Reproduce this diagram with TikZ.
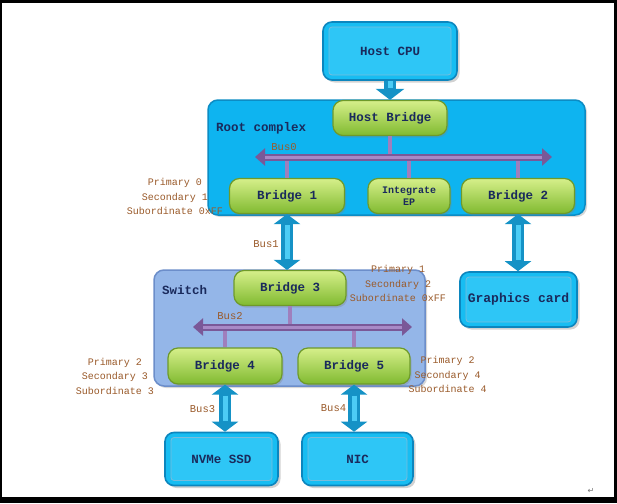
\documentclass[tikz,border=0pt]{standalone}
\usepackage{fontspec}
\setmonofont{Liberation Mono}
\newfontfamily\symfont{DejaVu Sans}
\usetikzlibrary{arrows.meta,shadows,calc}
\definecolor{cpublue}{HTML}{17BDF2}
\definecolor{cpuinner}{HTML}{2EC6F6}
\definecolor{boxedge}{HTML}{0C86BE}
\definecolor{rcblue}{HTML}{0EB4F0}
\definecolor{rcedge}{HTML}{0C8CC4}
\definecolor{swfill}{HTML}{94B6E8}
\definecolor{swedge}{HTML}{6C8ECA}
\definecolor{gtop}{HTML}{D6EF8A}
\definecolor{gmid}{HTML}{AFD951}
\definecolor{gbot}{HTML}{80BA30}
\definecolor{gedge}{HTML}{6E9A2A}
\definecolor{busdark}{HTML}{7A5898}
\definecolor{buslight}{HTML}{A889C6}
\definecolor{arrdark}{HTML}{1592C6}
\definecolor{arrlight}{HTML}{4CCCF5}
\definecolor{navy}{HTML}{1A2A5C}
\definecolor{brownlbl}{HTML}{9A5A2A}
\begin{document}
\begin{tikzpicture}[x=1pt,y=-1pt,
  nodefont/.style={font=\ttfamily\bfseries\fontsize{12.5}{14}\selectfont, text=navy},
  bluebox/.style={nodefont, draw=boxedge, line width=1.6pt, fill=cpublue, rounded corners=9pt,
    drop shadow={opacity=0.35, shadow xshift=2.5pt, shadow yshift=-2.5pt},
    path picture={\draw[draw=boxedge!55, line width=0.8pt, fill=cpuinner, rounded corners=3pt]
      ([shift={(6pt,-5pt)}]path picture bounding box.north west) rectangle
      ([shift={(-6pt,5pt)}]path picture bounding box.south east);}},
  greenbox/.style={nodefont, draw=gedge, line width=1.2pt, top color=gtop, middle color=gmid, bottom color=gbot,
    rounded corners=10pt, minimum height=35pt,
    drop shadow={opacity=0.3, shadow xshift=1.5pt, shadow yshift=-2pt}},
  groupbox/.style={rounded corners=10pt, line width=1.5pt,
    drop shadow={opacity=0.3, shadow xshift=2pt, shadow yshift=-2pt}},
  grouptitle/.style={nodefont, anchor=west, inner sep=0pt},
  lbl/.style={font=\ttfamily\fontsize{10}{14.5}\selectfont, text=brownlbl, align=center, inner sep=0pt},
  buslbl/.style={font=\ttfamily\fontsize{10.5}{12}\selectfont, text=brownlbl, inner sep=0pt},
  busouter/.style={draw=busdark, line width=7pt, {Triangle[width=17pt,length=10pt]}-{Triangle[width=17pt,length=10pt]}},
  businner/.style={draw=buslight, line width=3pt, shorten <=10pt, shorten >=10pt},
  stem/.style={draw=buslight!80!busdark, line width=4pt},
  arrouter/.style={draw=arrdark, line width=12pt, {Triangle[width=26pt,length=10pt]}-{Triangle[width=26pt,length=10pt]}},
  arrinner/.style={draw=arrlight, line width=5pt, shorten <=11pt, shorten >=11pt},
  arrdown/.style={draw=arrdark, line width=12pt, -{Triangle[width=28pt,length=11pt]}},
  arrdowninner/.style={draw=arrlight, line width=5pt, shorten >=12pt}
]
\fill[black] (0,0) rectangle (617,503);
\fill[white] (1.5,3) rectangle (614,497);
\useasboundingbox (0,0) rectangle (617,503);

% group boxes
\node[groupbox, draw=rcedge, fill=rcblue, minimum width=377pt, minimum height=115pt] (rc) at (396.5,157.5) {};
\node[groupbox, draw=swedge, fill=swfill, minimum width=271pt, minimum height=116pt] (sw) at (289.5,328) {};
\node[grouptitle] (rctitle) at (216,128) {Root complex};
\node[grouptitle] (swtitle) at (162,290) {Switch};

% bus coordinates
\coordinate (b0l) at (255,157);
\coordinate (b0r) at (552,157);
\coordinate (b2l) at (193,327);
\coordinate (b2r) at (412,327);

% blue boxes
\node[bluebox, minimum width=134pt, minimum height=58pt] (cpu) at (390,51) {Host CPU};
\node[bluebox, minimum width=117pt, minimum height=55pt, inner sep=0pt, font=\ttfamily\bfseries\fontsize{13}{14}\selectfont] (gc) at (518.5,299.5) {Graphics card};
\node[bluebox, minimum width=113pt, minimum height=53pt] (nvme) at (221.5,459) {NVMe SSD};
\node[bluebox, minimum width=111pt, minimum height=53pt] (nic) at (357.5,459) {NIC};

% green bridges
\node[greenbox, minimum width=114pt] (hb) at (390,118) {Host Bridge};
\node[greenbox, minimum width=115pt] (br1) at (287,196) {Bridge 1};
\node[greenbox, minimum width=82pt, align=center, inner sep=1pt, font=\ttfamily\bfseries\fontsize{10}{12}\selectfont] (iep) at (409,196) {Integrate\\EP};
\node[greenbox, minimum width=113pt] (br2) at (518,196) {Bridge 2};
\node[greenbox, minimum width=112pt] (br3) at (290,288) {Bridge 3};
\node[greenbox, minimum width=114pt, minimum height=36pt] (br4) at (225,366) {Bridge 4};
\node[greenbox, minimum width=112pt, minimum height=36pt] (br5) at (354,366) {Bridge 5};

% Bus0 and stems
\draw[stem] (hb.south) -- (hb.south |- b0l);
\draw[stem] (br1.north) -- (br1.north |- b0l);
\draw[stem] (iep.north) -- (iep.north |- b0l);
\draw[stem] (br2.north) -- (br2.north |- b0l);
\draw[busouter] (b0l) -- (b0r);
\draw[businner] (b0l) -- (b0r);

% Bus2 and stems
\draw[stem] (br3.south) -- (br3.south |- b2l);
\draw[stem] (br4.north) -- (br4.north |- b2l);
\draw[stem] (br5.north) -- (br5.north |- b2l);
\draw[busouter] (b2l) -- (b2r);
\draw[businner] (b2l) -- (b2r);

% blue arrows
\draw[arrdown] (cpu.south) -- (hb.north);
\draw[arrdowninner] (cpu.south) -- (hb.north);
\draw[arrouter] (br1.south) -- (br1.south |- br3.north);
\draw[arrinner] (br1.south) -- (br1.south |- br3.north);
\draw[arrouter] (br2.south) -- (br2.south |- gc.north);
\draw[arrinner] (br2.south) -- (br2.south |- gc.north);
\draw[arrouter] (br4.south) -- (br4.south |- nvme.north);
\draw[arrinner] (br4.south) -- (br4.south |- nvme.north);
\draw[arrouter] (br5.south) -- (br5.south |- nic.north);
\draw[arrinner] (br5.south) -- (br5.south |- nic.north);

% bus labels
\node[buslbl] (l0) at (284,147) {Bus0};
\node[buslbl] (l1) at (266,244) {Bus1};
\node[buslbl] (l2) at (230,316) {Bus2};
\node[buslbl] (l3) at (202.5,409) {Bus3};
\node[buslbl] (l4) at (333.5,408) {Bus4};

% primary/secondary/subordinate labels
\node[lbl] (n1) at (175,196.5) {Primary 0\\Secondary 1\\Subordinate 0xFF};
\node[lbl] (n3) at (398,283.5) {Primary 1\\Secondary 2\\Subordinate 0xFF};
\node[lbl] (n4) at (115,376) {Primary 2\\Secondary 3\\Subordinate 3};
\node[lbl] (n5) at (447.5,374.5) {Primary 2\\Secondary 4\\Subordinate 4};

% paragraph mark
\node[font=\symfont\fontsize{8}{8}\selectfont, text=black!55, inner sep=0pt] (pm) at (591,491) {↵};
\end{tikzpicture}
\end{document}
